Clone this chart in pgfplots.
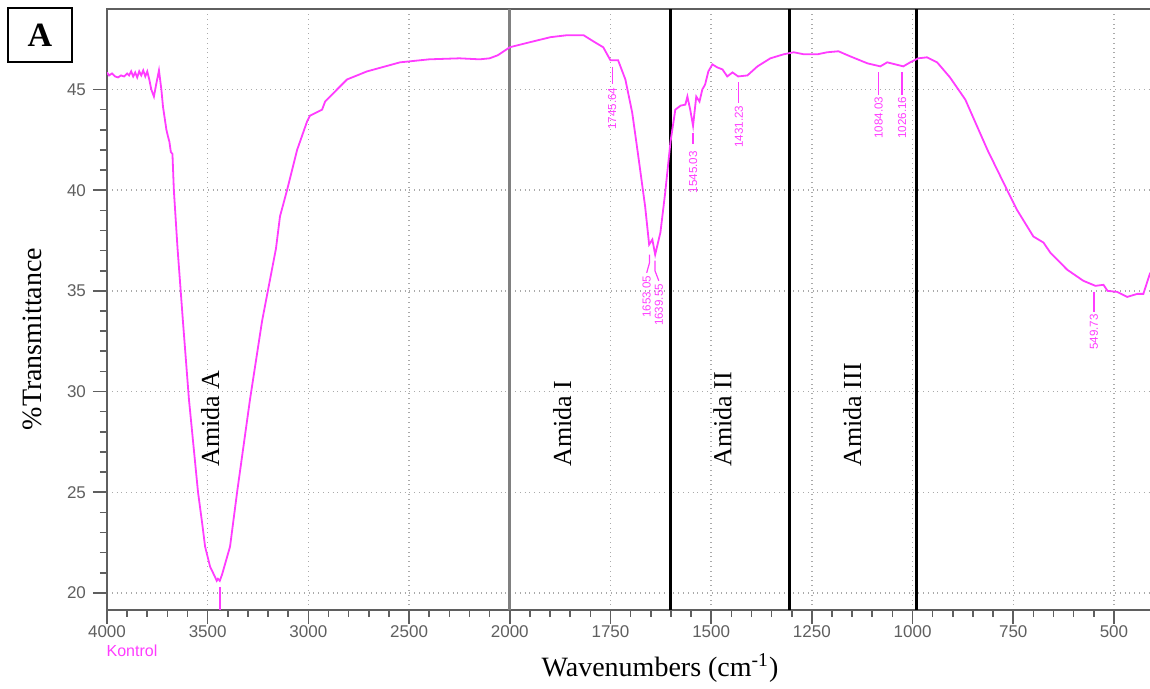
\documentclass[border=0pt]{standalone}
\usepackage{fontspec}
\setmainfont{Liberation Serif}
\setsansfont{Liberation Sans}
\usepackage{pgfplots}
\pgfplotsset{compat=1.18}
\usetikzlibrary{calc}
\definecolor{spec}{RGB}{255,60,255}
\definecolor{axgray}{RGB}{95,95,95}
\definecolor{gridgray}{RGB}{170,170,170}

% FTIR axis: 4000-2000 at 500 per unit, 2000-400 at 250 per unit
\begin{document}
\begin{tikzpicture}[declare function={wn(\w)=(\w>=2000)*((4000-\w)/500)+(\w<2000)*(4+(2000-\w)/250);},
  plab/.style={font=\sffamily\fontsize{5.8}{6}\selectfont, text=spec, inner sep=0.4pt, rotate=90, anchor=east},
  amida/.style={font=\fontsize{13}{15}\selectfont, rotate=90, anchor=west, inner sep=0pt}]
\begin{axis}[
    name=ax, at={(0,0)}, anchor=south west,
    scale only axis, width=522.6pt, height=300.5pt,
    xmin=0, xmax=10.38, ymin=19.15, ymax=49.0,
    axis line style={axgray, line width=1pt},
    xtick={0,1,...,10},
    xticklabels={4000,3500,3000,2500,2000,1750,1500,1250,1000,750,500},
    ytick={20,25,30,35,40,45},
    minor x tick num=4, minor y tick num=4,
    tick align=outside, tick pos=left,
    major tick length=7pt, minor tick length=3.5pt,
    every tick/.style={axgray, line width=0.8pt},
    ticklabel style={font=\sffamily\fontsize{8.5}{10}\selectfont, text=axgray},
    xticklabel style={yshift=2.5pt},
    /pgf/number format/assume math mode=true,
    grid=major,
    major grid style={gridgray, dotted, line width=0.7pt},
]
\draw[gray, line width=1.5pt] (axis cs:4,19.15) -- (axis cs:4,49);
\draw[black, line width=1.5pt] (axis cs:{wn(1600)},19.15) -- (axis cs:{wn(1600)},49);
\draw[black, line width=1.5pt] (axis cs:{wn(1305)},19.15) -- (axis cs:{wn(1305)},49);
\draw[black, line width=1.5pt] (axis cs:{wn(990)},19.15) -- (axis cs:{wn(990)},49);

\addplot[spec, line width=0.9pt] table[x expr={wn(\thisrowno{0})}, y index=1] {
4000 45.85
3990 45.70
3975 45.80
3960 45.65
3945 45.60
3930 45.70
3915 45.65
3900 45.80
3890 45.70
3880 45.90
3870 45.65
3860 45.85
3850 45.60
3840 45.90
3830 45.70
3820 45.95
3810 45.65
3800 45.90
3790 45.50
3780 45.00
3767 44.65
3755 45.30
3742 45.95
3730 45.00
3722 44.15
3705 43.00
3697 42.66
3690 42.40
3683 41.90
3675 41.80
3668 40.00
3650 37.15
3623 33.50
3593 29.60
3548 25.00
3528 23.50
3513 22.30
3488 21.30
3464 20.80
3455 20.60
3449 20.70
3440 20.60
3429 20.90
3389 22.30
3354 25.00
3290 29.60
3230 33.50
3161 37.10
3141 38.70
3106 40.00
3056 42.00
3007 43.40
2992 43.70
2932 44.00
2917 44.40
2858 45.00
2808 45.50
2709 45.90
2545 46.35
2400 46.50
2250 46.55
2150 46.50
2100 46.55
2060 46.70
2030 46.90
2000 47.10
1950 47.35
1899 47.60
1857 47.70
1817 47.70
1793 47.40
1768 47.10
1750 46.45
1731 46.45
1713 45.50
1696 43.85
1681 41.70
1664 39.20
1654 37.30
1646 37.55
1639 36.80
1626 37.90
1614 39.90
1601 42.40
1589 44.00
1576 44.20
1564 44.25
1559 44.65
1552 44.00
1545 43.20
1537 44.65
1529 44.40
1522 45.00
1515 45.25
1507 45.90
1497 46.25
1485 46.10
1472 46.00
1460 45.65
1447 45.85
1433 45.65
1410 45.70
1385 46.15
1353 46.55
1320 46.75
1295 46.85
1270 46.75
1236 46.75
1212 46.85
1184 46.90
1155 46.65
1112 46.30
1080 46.15
1063 46.35
1023 46.15
1006 46.35
986 46.55
964 46.60
939 46.35
907 45.60
869 44.50
814 42.00
765 40.00
740 39.00
700 37.70
675 37.40
658 36.90
616 36.05
576 35.50
546 35.25
526 35.30
516 35.00
492 34.95
467 34.70
442 34.85
427 34.85
410 35.90
};

% peak markers
\draw[spec, line width=0.6pt] (axis cs:{wn(1745.64)},46.1) -- (axis cs:{wn(1745.64)},45.25);
\node[plab] at (axis cs:{wn(1745.64)},45.15) {1745.64};
\draw[spec, line width=0.6pt] (axis cs:{wn(1653.05)},36.8) -- (axis cs:{wn(1653.05)},36.4) -- (axis cs:{wn(1660)},35.9);
\node[plab] at (axis cs:{wn(1660)},35.8) {1653.05};
\draw[spec, line width=0.6pt] (axis cs:{wn(1639.55)},36.5) -- (axis cs:{wn(1639.55)},36.0) -- (axis cs:{wn(1630)},35.5);
\node[plab] at (axis cs:{wn(1630)},35.4) {1639.55};
\draw[spec, line width=0.6pt] (axis cs:{wn(1545.03)},42.86) -- (axis cs:{wn(1545.03)},42.27);
\node[plab] at (axis cs:{wn(1545.03)},42.0) {1545.03};
\draw[spec, line width=0.6pt] (axis cs:{wn(1431.23)},45.35) -- (axis cs:{wn(1431.23)},44.35);
\node[plab] at (axis cs:{wn(1431.23)},44.25) {1431.23};
\draw[spec, line width=0.6pt] (axis cs:{wn(1084.03)},45.85) -- (axis cs:{wn(1084.03)},44.75);
\node[plab] at (axis cs:{wn(1084.03)},44.7) {1084.03};
\draw[spec, line width=0.6pt] (axis cs:{wn(1026.16)},45.85) -- (axis cs:{wn(1026.16)},44.75);
\node[plab] at (axis cs:{wn(1026.16)},44.7) {1026.16};
\draw[spec, line width=0.6pt] (axis cs:{wn(549.73)},34.96) -- (axis cs:{wn(549.73)},33.97);
\node[plab] at (axis cs:{wn(549.73)},33.9) {549.73};
\draw[spec, line width=0.6pt] (axis cs:{wn(3439)},20.3) -- (axis cs:{wn(3439)},19.15);

% band regions
\node[amida] at (axis cs:{wn(3488)},26.26) {Amida A};
\node[amida] at (axis cs:{wn(1870)},26.26) {Amida I};
\node[amida] at (axis cs:{wn(1472)},26.26) {Amida II};
\node[amida] at (axis cs:{wn(1150)},26.26) {Amida III};
\end{axis}

\node[font=\fontsize{14}{16}\selectfont, rotate=90] at (-37.5pt,135.5pt) {\%Transmittance};
\node[font=\fontsize{14}{16}\selectfont] at (276.5pt,-29pt) {Wavenumbers (cm\textsuperscript{-1})};
\node[font=\sffamily\fontsize{8}{9}\selectfont, text=spec] at (12.5pt,-20.5pt) {Kontrol};
\draw[line width=0.8pt] (-49.5pt,274pt) rectangle (-17.5pt,301pt);
\node[font=\bfseries\fontsize{17}{19}\selectfont] at (-33.5pt,287.5pt) {A};

\pgfresetboundingbox
\path[use as bounding box] (-53.5pt,-39.5pt) rectangle (521.5pt,305pt);
\end{tikzpicture}
\end{document}
